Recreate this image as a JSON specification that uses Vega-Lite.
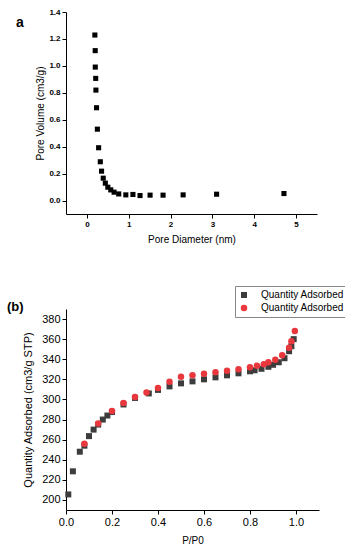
{
  "$schema": "https://vega.github.io/schema/vega-lite/v6.json",
  "padding": {"left": 7, "top": 8, "right": 0, "bottom": 0},
  "background": "white",
  "spacing": 57,
  "config": {
    "font": "Liberation Sans",
    "view": {"stroke": null},
    "axis": {"grid": false, "domainColor": "#000", "tickColor": "#000", "labelColor": "#000", "titleColor": "#000", "titleFontWeight": "normal", "tickSize": 4, "domainWidth": 1, "tickWidth": 1, "labelFlush": false}
  },
  "datasets": {
    "pore": [
      {"d": 0.19, "v": 1.229}, {"d": 0.198, "v": 1.113}, {"d": 0.2, "v": 0.991}, {"d": 0.21, "v": 0.907},
      {"d": 0.215, "v": 0.82}, {"d": 0.23, "v": 0.689}, {"d": 0.25, "v": 0.53}, {"d": 0.28, "v": 0.392},
      {"d": 0.32, "v": 0.288}, {"d": 0.35, "v": 0.218}, {"d": 0.39, "v": 0.166}, {"d": 0.44, "v": 0.129},
      {"d": 0.5, "v": 0.099}, {"d": 0.57, "v": 0.079}, {"d": 0.65, "v": 0.062}, {"d": 0.76, "v": 0.049},
      {"d": 0.93, "v": 0.042}, {"d": 1.1, "v": 0.045}, {"d": 1.27, "v": 0.037}, {"d": 1.51, "v": 0.04},
      {"d": 1.82, "v": 0.04}, {"d": 2.3, "v": 0.042}, {"d": 3.1, "v": 0.047}, {"d": 4.71, "v": 0.052}
    ],
    "iso": [
      {"p": 0.01, "q": 205.5, "s": "ads"}, {"p": 0.03, "q": 228.5, "s": "ads"}, {"p": 0.06, "q": 248, "s": "ads"},
      {"p": 0.08, "q": 254, "s": "ads"}, {"p": 0.10, "q": 263.5, "s": "ads"}, {"p": 0.12, "q": 270, "s": "ads"},
      {"p": 0.14, "q": 275, "s": "ads"}, {"p": 0.16, "q": 280, "s": "ads"}, {"p": 0.18, "q": 284, "s": "ads"},
      {"p": 0.20, "q": 287.5, "s": "ads"}, {"p": 0.25, "q": 295, "s": "ads"}, {"p": 0.30, "q": 301.5, "s": "ads"},
      {"p": 0.36, "q": 306, "s": "ads"}, {"p": 0.40, "q": 309.5, "s": "ads"}, {"p": 0.45, "q": 313, "s": "ads"},
      {"p": 0.50, "q": 316, "s": "ads"}, {"p": 0.55, "q": 318, "s": "ads"}, {"p": 0.60, "q": 320, "s": "ads"},
      {"p": 0.65, "q": 322, "s": "ads"}, {"p": 0.70, "q": 324, "s": "ads"}, {"p": 0.75, "q": 326, "s": "ads"},
      {"p": 0.80, "q": 328, "s": "ads"}, {"p": 0.82, "q": 329, "s": "ads"}, {"p": 0.85, "q": 330.5, "s": "ads"},
      {"p": 0.88, "q": 332.5, "s": "ads"}, {"p": 0.90, "q": 334.5, "s": "ads"}, {"p": 0.925, "q": 337, "s": "ads"},
      {"p": 0.95, "q": 341, "s": "ads"}, {"p": 0.97, "q": 348, "s": "ads"}, {"p": 0.98, "q": 353, "s": "ads"},
      {"p": 0.99, "q": 360, "s": "ads"},
      {"p": 0.08, "q": 256, "s": "des"}, {"p": 0.14, "q": 276, "s": "des"}, {"p": 0.20, "q": 288.5, "s": "des"},
      {"p": 0.25, "q": 296.5, "s": "des"}, {"p": 0.30, "q": 302.5, "s": "des"}, {"p": 0.35, "q": 307, "s": "des"},
      {"p": 0.40, "q": 311.5, "s": "des"}, {"p": 0.45, "q": 317.5, "s": "des"}, {"p": 0.50, "q": 322.5, "s": "des"},
      {"p": 0.55, "q": 324, "s": "des"}, {"p": 0.60, "q": 325.5, "s": "des"}, {"p": 0.65, "q": 327, "s": "des"},
      {"p": 0.70, "q": 328.5, "s": "des"}, {"p": 0.75, "q": 330, "s": "des"}, {"p": 0.80, "q": 332, "s": "des"},
      {"p": 0.83, "q": 333.5, "s": "des"}, {"p": 0.86, "q": 335, "s": "des"}, {"p": 0.88, "q": 337, "s": "des"},
      {"p": 0.91, "q": 339.5, "s": "des"}, {"p": 0.94, "q": 344, "s": "des"}, {"p": 0.97, "q": 351.5, "s": "des"},
      {"p": 0.98, "q": 358, "s": "des"}, {"p": 0.995, "q": 368, "s": "des"}
    ]
  },
  "vconcat": [
    {
      "width": 251,
      "height": 202,
      "title": {"text": "a", "anchor": "start", "frame": "group", "fontSize": 14, "fontWeight": "bold", "dx": -50, "dy": 22, "offset": 0},
      "data": {"name": "pore"},
      "mark": {"type": "square", "size": 26, "color": "#000", "opacity": 1},
      "encoding": {
        "x": {"field": "d", "type": "quantitative", "scale": {"domain": [-0.5, 5.5], "nice": false, "zero": false},
          "axis": {"title": "Pore Diameter (nm)", "values": [0, 1, 2, 3, 4, 5], "format": "d", "labelFontSize": 8, "labelFontWeight": "bold", "titleFontSize": 10, "titlePadding": 6}},
        "y": {"field": "v", "type": "quantitative", "scale": {"domain": [-0.1, 1.4], "nice": false, "zero": false},
          "axis": {"title": "Pore Volume (cm3/g)", "values": [0, 0.2, 0.4, 0.6, 0.8, 1.0, 1.2, 1.4], "format": ".1f", "labelFontSize": 8, "labelFontWeight": "bold", "titleFontSize": 10, "titlePadding": 3}}
      }
    },
    {
      "width": 253,
      "height": 201,
      "title": {"text": "(b)", "anchor": "start", "frame": "group", "fontSize": 13, "fontWeight": "bold", "dx": -59, "offset": -5},
      "data": {"name": "iso"},
      "mark": {"type": "point", "filled": true, "opacity": 1},
      "encoding": {
        "x": {"field": "p", "type": "quantitative", "scale": {"domain": [0, 1.1], "nice": false, "zero": false},
          "axis": {"title": "P/P0", "values": [0, 0.2, 0.4, 0.6, 0.8, 1.0], "format": ".1f", "labelFontSize": 11, "titleFontSize": 10, "titlePadding": 8}},
        "y": {"field": "q", "type": "quantitative", "scale": {"domain": [190, 390], "nice": false, "zero": false},
          "axis": {"title": "Quantity Adsorbed (cm3/g STP)", "values": [200, 220, 240, 260, 280, 300, 320, 340, 360, 380], "labelFontSize": 11, "titleFontSize": 11, "titlePadding": 8}},
        "color": {"field": "s", "type": "nominal", "scale": {"domain": ["ads", "des"], "range": ["#3d3d3d", "#e8383d"]},
          "legend": {"title": null, "orient": "none", "legendX": 169, "legendY": 274, "labelExpr": "'Quantity Adsorbed'", "labelFontSize": 10, "symbolSize": 30, "strokeColor": "#888", "padding": 4, "rowPadding": 3, "labelOffset": 12, "labelColor": "#000", "fillColor": "white"}},
        "shape": {"field": "s", "type": "nominal", "scale": {"domain": ["ads", "des"], "range": ["square", "circle"]}},
        "size": {"field": "s", "type": "nominal", "scale": {"domain": ["ads", "des"], "range": [36, 42]}, "legend": null}
      }
    }
  ]
}
